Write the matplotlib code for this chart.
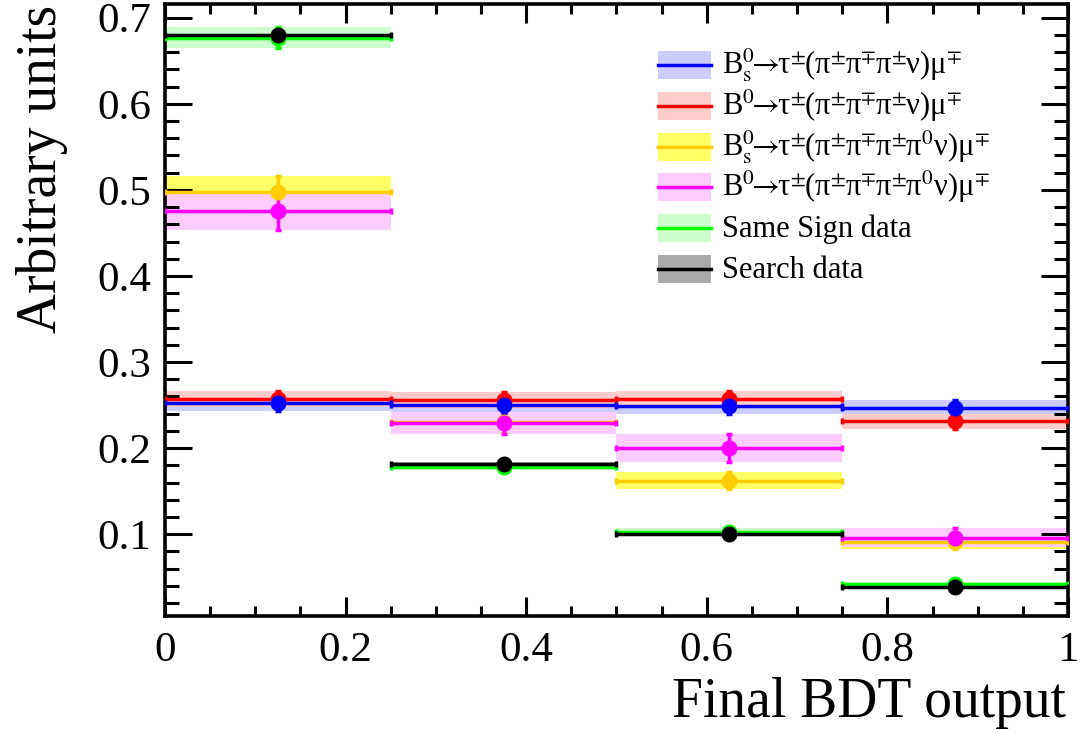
import matplotlib
matplotlib.use("Agg")
import matplotlib.pyplot as plt
from matplotlib.patches import Rectangle
from matplotlib.lines import Line2D
from matplotlib.ticker import MultipleLocator

plt.rcParams['font.family'] = ['Liberation Serif', 'DejaVu Serif']
plt.rcParams['mathtext.fontset'] = 'stix'

# BDT bins
bin_centers = [0.125, 0.375, 0.625, 0.875]
bin_half_width = 0.125

# normalised yields per bin and their uncertainties
bs_3pi = [0.252, 0.250, 0.249, 0.247]
bs_3pi_err = [0.009, 0.009, 0.009, 0.009]
b0_3pi = [0.257, 0.256, 0.257, 0.231]
b0_3pi_err = [0.009, 0.009, 0.009, 0.009]
bs_3pipi0 = [0.497, 0.230, 0.162, 0.091]
bs_3pipi0_err = [0.019, 0.012, 0.010, 0.008]
b0_3pipi0 = [0.476, 0.229, 0.200, 0.096]
b0_3pipi0_err = [0.023, 0.013, 0.016, 0.011]
same_sign = [0.677, 0.178, 0.103, 0.042]
same_sign_err = [0.012, 0.003, 0.004, 0.003]
search = [0.680, 0.182, 0.100, 0.039]
search_err = [0.003, 0.002, 0.002, 0.002]

arrow = r'$\!\!\rightarrow\!\!$'
pm = r'$^{\pm}\hspace{-0.07}$'
mp = r'$^{\mp}\hspace{-0.07}$'
labels = [
    r'B$_{\rm s}^{0}$' + arrow + 'τ' + pm + '(π' + pm + 'π' + mp + 'π' + pm + 'ν)μ' + mp,
    r'B$^{0}$' + arrow + 'τ' + pm + '(π' + pm + 'π' + mp + 'π' + pm + 'ν)μ' + mp,
    r'B$_{\rm s}^{0}$' + arrow + 'τ' + pm + '(π' + pm + 'π' + mp + 'π' + pm
    + r'π$^{0}$ν)μ' + mp,
    r'B$^{0}$' + arrow + 'τ' + pm + '(π' + pm + 'π' + mp + 'π' + pm
    + r'π$^{0}$ν)μ' + mp,
    'Same Sign data',
    'Search data',
]

# (values, errors, line colour, band colour)
series = [
    (bs_3pi, bs_3pi_err, '#0000ff', '#ccccff'),
    (b0_3pi, b0_3pi_err, '#ff0000', '#ffcccc'),
    (bs_3pipi0, bs_3pipi0_err, '#ffcc00', '#ffff66'),
    (b0_3pipi0, b0_3pipi0_err, '#ff00ff', '#ffccff'),
    (same_sign, same_sign_err, '#00ff00', '#ccffcc'),
    (search, search_err, '#000000', '#aaaaaa'),
]

W, H = 1083, 735
fig = plt.figure(figsize=(W / 100, H / 100), dpi=100)
ax = fig.add_axes([0.1524, 0.1619, 0.8337, 0.8327])

# uncertainty bands first
band_order = [5, 0, 1, 2, 3, 4]
for i in band_order:
    vals, errs, lc, bc = series[i]
    ax.bar(bin_centers, [2 * e for e in errs],
           bottom=[v - e for v, e in zip(vals, errs)],
           width=2 * bin_half_width, color=bc, linewidth=0, zorder=1)

# points with error bars on top
line_order = [2, 3, 1, 0, 4, 5]
for i in line_order:
    vals, errs, lc, bc = series[i]
    ax.errorbar(bin_centers, vals, xerr=bin_half_width, yerr=errs,
                fmt='o', color=lc, ms=10.5, lw=2.5, capsize=2.5,
                capthick=2.5, zorder=3)

ax.set_xlim(0, 1)
ax.set_ylim(0.005, 0.716)
ax.xaxis.set_major_locator(MultipleLocator(0.2))
ax.xaxis.set_minor_locator(MultipleLocator(0.05))
ax.yaxis.set_major_locator(MultipleLocator(0.1))
ax.yaxis.set_minor_locator(MultipleLocator(0.02))

for s in ax.spines.values():
    s.set_linewidth(2.6)
ax.tick_params(which='both', direction='in', top=True, right=True,
               width=2.2, labelsize=31)
ax.tick_params(axis='y', which='major', length=19.5, pad=10)
ax.tick_params(axis='y', which='minor', length=10)
ax.tick_params(axis='x', which='major', length=14, pad=11)
ax.tick_params(axis='x', which='minor', length=7)

ax.xaxis.set_major_formatter(plt.FuncFormatter(lambda v, p: f'{v:g}'))
ax.yaxis.set_major_formatter(plt.FuncFormatter(lambda v, p: f'{v:.1f}'))

fig.text(0.039, 0.993, 'Arbitrary units', rotation=90, ha='center',
         va='top', fontsize=40)
fig.text(0.9843, 0.025, 'Final BDT output', ha='right', va='baseline',
         fontsize=40)

# legend laid out by hand so every row has the same pitch (pixels)
row_top, row_pitch = 65, 40.8
box_x0, box_w, box_h = 658, 53, 28
text_x = 722
for k, (lab, (vals, errs, lc, bc)) in enumerate(zip(labels, series)):
    yc = row_top + k * row_pitch
    fig.add_artist(Rectangle((box_x0 / W, 1 - (yc + box_h / 2) / H),
                             box_w / W, box_h / H, facecolor=bc,
                             edgecolor='none', transform=fig.transFigure))
    fig.add_artist(Line2D([box_x0 / W, (box_x0 + box_w) / W],
                          [1 - yc / H, 1 - yc / H], color=lc, lw=2.5,
                          transform=fig.transFigure))
    fig.text(text_x / W, 1 - (yc + 9) / H, lab, fontsize=22,
             ha='left', va='baseline')

fig.savefig('out.png', dpi=100)
